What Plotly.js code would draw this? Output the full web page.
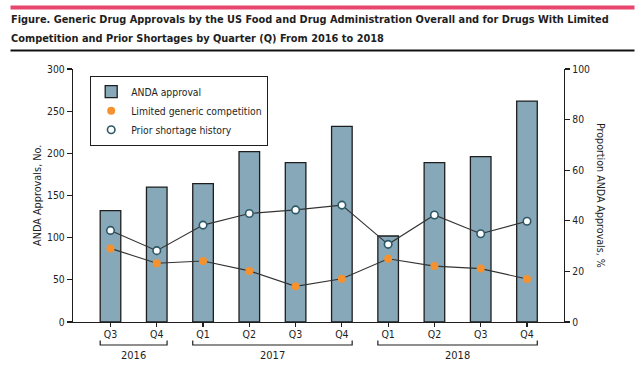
<!DOCTYPE html>
<html>
<head>
<meta charset="utf-8">
<script src="https://cdn.plot.ly/plotly-3.0.1.min.js"></script>
<style>html,body{margin:0;padding:0;background:#fff;}#chart{width:639px;height:372px;}</style>
</head>
<body>
<div id="chart"></div>
<script>
// ---- data ----
const quarters = ['Q3','Q4','Q1','Q2','Q3','Q4','Q1','Q2','Q3','Q4'];
const years = ['2016','2016','2017','2017','2017','2017','2018','2018','2018','2018'];
const andaApprovals = [132, 160, 164, 202, 189, 232, 102, 189, 196, 262];
const limitedCompetitionPct = [29.1, 23.2, 24.1, 20.2, 14.1, 17.1, 25.0, 22.1, 21.1, 17.0];
const priorShortagePct = [36.2, 28.2, 38.3, 42.9, 44.3, 46.2, 30.7, 42.3, 34.9, 39.8];
const seriesNames = ['ANDA approval', 'Limited generic competition', 'Prior shortage history'];
const titleLines = ['Figure. Generic Drug Approvals by the US Food and Drug Administration Overall and for Drugs With Limited',
                    'Competition and Prior Shortages by Quarter (Q) From 2016 to 2018'];
const yTitle = 'ANDA Approvals, No.';
const y2Title = 'Proportion ANDA Approvals, %';

// ---- styling ----
const FONT = '"DejaVu Sans Condensed", "Liberation Sans Narrow", sans-serif';
const INK = '#1e1e1e';
const BAR = '#87a8b8';
const ORANGE = '#f5922f';
const TEAL = '#2d5868';
const barWidth = 0.445;
const idx = quarters.map((_, i) => i);

const traces = [
  {type:'bar', x: idx, y: andaApprovals, name: seriesNames[0], width: barWidth,
   marker:{color: BAR, line:{color: INK, width: 1.3}}, hoverinfo:'skip'},
  {type:'scatter', mode:'lines', x: idx, y: limitedCompetitionPct, yaxis:'y2', showlegend:false,
   line:{color:'#333', width:1.1}, hoverinfo:'skip'},
  {type:'scatter', mode:'lines', x: idx, y: priorShortagePct, yaxis:'y2', showlegend:false,
   line:{color:'#333', width:1.1}, hoverinfo:'skip'},
  {type:'scatter', mode:'markers', x: idx, y: limitedCompetitionPct, yaxis:'y2', name: seriesNames[1],
   marker:{color: ORANGE, size: 8, line:{width:0}}, hoverinfo:'skip'},
  {type:'scatter', mode:'markers', x: idx, y: priorShortagePct, yaxis:'y2', name: seriesNames[2],
   marker:{color:'#fff', size: 7.5, line:{color: TEAL, width: 1.6}}, hoverinfo:'skip'}
];

// plot area geometry helpers (paper coords)
const W = 639, H = 372, ML = 73, MR = 75, MT = 69, MB = 50;
const PW = W - ML - MR, PH = H - MT - MB;
const px = x => (x - ML) / PW;
const py = y => (H - MB - y) / PH;

const shapes = [];
const annotations = [
  // decorative rules above and below the figure title
  {xref:'paper', yref:'paper', x: px(10), y: py(7.5), xanchor:'left', yanchor:'middle', showarrow:false,
   text:'&nbsp;', font:{size:1}, width: 623, height: 3, borderpad: 0, bgcolor:'#e8466e'},
  {xref:'paper', yref:'paper', x: px(10), y: py(51), xanchor:'left', yanchor:'middle', showarrow:false,
   text:'&nbsp;', font:{size:1}, width: 623, height: 1, borderpad: 0, bgcolor:'#111'},
  {xref:'paper', yref:'paper', x: px(9), y: py(19.5), xanchor:'left', yanchor:'middle', showarrow:false,
   text: titleLines[0], font:{family: FONT, size: 10.9, color: INK, weight: 'bold'}},
  {xref:'paper', yref:'paper', x: px(9), y: py(38.5), xanchor:'left', yanchor:'middle', showarrow:false,
   text: titleLines[1], font:{family: FONT, size: 10.9, color: INK, weight: 'bold'}},
  {xref:'paper', yref:'paper', x: px(37), y: py(196), xanchor:'center', yanchor:'middle', textangle:-90, showarrow:false,
   text: yTitle, font:{family: FONT, size: 10.8, color: INK}},
  {xref:'paper', yref:'paper', x: px(601), y: py(195), xanchor:'center', yanchor:'middle', textangle:90, showarrow:false,
   text: y2Title, font:{family: FONT, size: 10.6, color: INK}}
];
// year group brackets
const uniqueYears = [...new Set(years)];
uniqueYears.forEach(yr => {
  const first = years.indexOf(yr), last = years.lastIndexOf(yr);
  const x0 = first - barWidth/2, x1 = last + barWidth/2;
  const yTop = py(340.5), yBot = py(345);
  shapes.push({type:'path', xref:'x', yref:'paper',
    path:`M ${x0},${yTop} L ${x0},${yBot} L ${x1},${yBot} L ${x1},${yTop}`,
    line:{color: INK, width: 1.2}});
  annotations.push({xref:'x', yref:'paper', x:(x0+x1)/2, y: py(355.5), yanchor:'middle', showarrow:false,
    text: yr, font:{family: FONT, size: 11, color: INK}});
});

const layout = {
  width: W, height: H,
  margin:{l: ML, r: MR, t: MT, b: MB, pad: 0},
  paper_bgcolor:'#fff', plot_bgcolor:'#fff',
  font:{family: FONT, size: 10.5, color: INK},
  showlegend: true,
  legend:{x: px(90), y: py(76), xanchor:'left', yanchor:'top', bgcolor:'#fff',
    bordercolor: INK, borderwidth: 1.2, font:{family: FONT, size: 10.3, color: INK},
    tracegroupgap: 0, itemclick:false, itemdoubleclick:false},
  xaxis:{range:[-0.81, 9.8], tickmode:'array', tickvals: idx, ticktext: quarters,
    showline:true, linecolor: INK, linewidth: 1.2, ticks:'outside', ticklen: 4, tickwidth: 1.2, tickcolor: INK,
    ticklabelstandoff: -2,
    showgrid:false, zeroline:false, fixedrange:true, tickfont:{family: FONT, size: 10.5, color: INK}},
  yaxis:{range:[0, 300], dtick: 50, showline:true, linecolor: INK, linewidth: 1.2, ticks:'outside',
    ticklen: 5, tickwidth: 1.2, tickcolor: INK, showgrid:false, zeroline:false, fixedrange:true,
    tickfont:{family: FONT, size: 10.3, color: INK}},
  yaxis2:{range:[0, 100], dtick: 20, overlaying:'y', side:'right', anchor:'x', showline:true, linecolor: INK,
    linewidth: 1.2, ticks:'outside', ticklen: 5, tickwidth: 1.2, tickcolor: INK, showgrid:false, zeroline:false,
    fixedrange:true, tickfont:{family: FONT, size: 10.3, color: INK}},
  shapes: shapes,
  annotations: annotations,
  bargap: 0
};

Plotly.newPlot('chart', traces, layout, {staticPlot: true, displayModeBar: false});
</script>
</body>
</html>
